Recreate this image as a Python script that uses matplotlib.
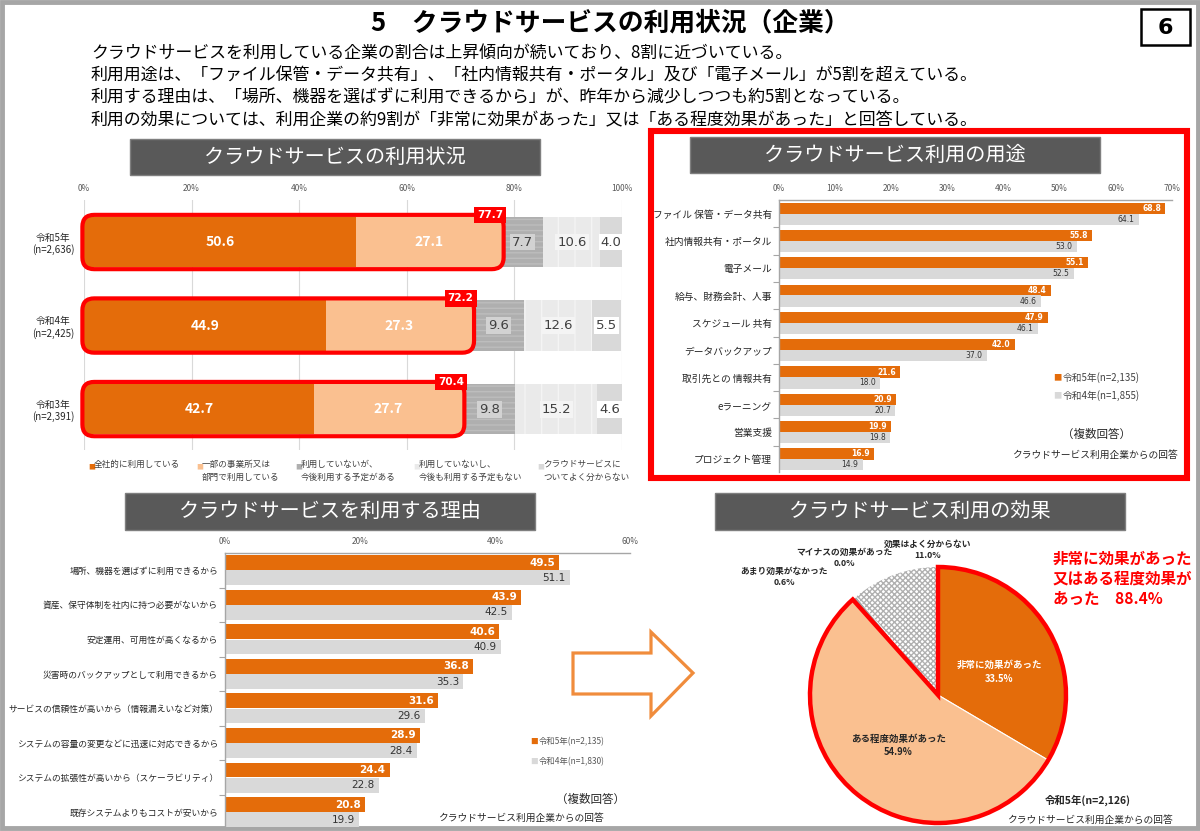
import numpy as np
import matplotlib
matplotlib.use('Agg')
import matplotlib.pyplot as plt
from matplotlib.patches import FancyBboxPatch, Rectangle, Wedge, Polygon

plt.rcParams['font.family'] = ['Noto Sans CJK JP', 'DejaVu Sans']
plt.rcParams['hatch.linewidth'] = 1.0

W, H = 1200, 831
ORANGE = '#E46C0A'
LIGHT_ORANGE = '#FAC090'
GRAY = '#D9D9D9'
DARK = '#262626'

# 利用状況
years = ['令和5年\n(n=2,636)', '令和4年\n(n=2,425)', '令和3年\n(n=2,391)']
use_all = [50.6, 44.9, 42.7]
use_part = [27.1, 27.3, 27.7]
plan = [7.7, 9.6, 9.8]
no_plan = [10.6, 12.6, 15.2]
unknown = [4.0, 5.5, 4.6]
status_legend = ['全社的に利用している', '一部の事業所又は\n部門で利用している',
                 '利用していないが、\n今後利用する予定がある',
                 '利用していないし、\n今後も利用する予定もない',
                 'クラウドサービスに\nついてよく分からない']

# 用途
purpose_labels = ['ファイル 保管・データ共有', '社内情報共有・ポータル', '電子メール',
                  '給与、財務会計、人事', 'スケジュール 共有', 'データバックアップ',
                  '取引先との 情報共有', 'eラーニング', '営業支援', 'プロジェクト管理']
purpose_r5 = [68.8, 55.8, 55.1, 48.4, 47.9, 42.0, 21.6, 20.9, 19.9, 16.9]
purpose_r4 = [64.1, 53.0, 52.5, 46.6, 46.1, 37.0, 18.0, 20.7, 19.8, 14.9]
purpose_legend = ['令和5年(n=2,135)', '令和4年(n=1,855)']

# 理由
reason_labels = ['場所、機器を選ばずに利用できるから', '資産、保守体制を社内に持つ必要がないから',
                 '安定運用、可用性が高くなるから', '災害時のバックアップとして利用できるから',
                 'サービスの信頼性が高いから（情報漏えいなど対策）',
                 'システムの容量の変更などに迅速に対応できるから',
                 'システムの拡張性が高いから（スケーラビリティ）', '既存システムよりもコストが安いから']
reason_r5 = [49.5, 43.9, 40.6, 36.8, 31.6, 28.9, 24.4, 20.8]
reason_r4 = [51.1, 42.5, 40.9, 35.3, 29.6, 28.4, 22.8, 19.9]
reason_legend = ['令和5年(n=2,135)', '令和4年(n=1,830)']

# 効果
effect_labels = ['非常に効果があった', 'ある程度効果があった', 'あまり効果がなかった',
                 'マイナスの効果があった', '効果はよく分からない']
effect_values = [33.5, 54.9, 0.6, 0.0, 11.0]

fig = plt.figure(figsize=(12, 8.31), dpi=100)


def px_axes(x0, y0, x1, y1):
    ax = fig.add_axes([x0 / W, 1 - y1 / H, (x1 - x0) / W, (y1 - y0) / H])
    ax.set_facecolor('none')
    return ax


# 背景・装飾用 (ピクセル座標)
deco = px_axes(0, 0, W, H)
deco.set_xlim(0, W)
deco.set_ylim(H, 0)
deco.axis('off')

deco.add_patch(Rectangle((2, 2), W - 4, H - 5, fill=False, ec='#A6A6A6', lw=3.5))
deco.text(610, 23, '5　クラウドサービスの利用状況（企業）', fontsize=18.5, fontweight='bold',
          ha='center', va='center', color='black')
deco.add_patch(Rectangle((1141, 9), 49, 36, fill=False, ec='black', lw=1.8))
deco.text(1165.5, 27.5, '6', fontsize=16, fontweight='bold', ha='center', va='center',
          family='DejaVu Sans')

body = ['クラウドサービスを利用している企業の割合は上昇傾向が続いており、8割に近づいている。',
        '利用用途は、「ファイル保管・データ共有」、「社内情報共有・ポータル」及び「電子メール」が5割を超えている。',
        '利用する理由は、「場所、機器を選ばずに利用できるから」が、昨年から減少しつつも約5割となっている。',
        '利用の効果については、利用企業の約9割が「非常に効果があった」又は「ある程度効果があった」と回答している。']
for k, line in enumerate(body):
    deco.text(91, 53 + 22.3 * k, line, fontsize=12.2, ha='left', va='center', color='black')


def title_box(x0, y0, x1, y1, text):
    deco.add_patch(Rectangle((x0, y0), x1 - x0, y1 - y0, fc='#595959', ec='#7F7F7F', lw=1))
    deco.text((x0 + x1) / 2, (y0 + y1) / 2, text, color='white', fontsize=14.5,
              ha='center', va='center')


title_box(130, 139, 540, 175, 'クラウドサービスの利用状況')
title_box(690, 137, 1100, 173, 'クラウドサービス利用の用途')
title_box(125, 493, 535, 530, 'クラウドサービスを利用する理由')
title_box(715, 493, 1125, 530, 'クラウドサービス利用の効果')

# 赤枠 (用途)
deco.add_patch(Rectangle((651, 131), 536, 347, fill=False, ec='#FF0000', lw=4.4))

# 矢印
deco.add_patch(Polygon([(573, 653), (651, 653), (651, 632), (693, 673), (651, 716),
                        (651, 694), (573, 694)], closed=True, fc='white', ec='#F08C3C', lw=2.3))

# ---------- 利用状況 ----------
ax1 = px_axes(84, 200, 622, 450)
yy = np.arange(len(years))
segs = [use_all, use_part, plan, no_plan, unknown]
seg_colors = [ORANGE, LIGHT_ORANGE, '#AFAFAF', '#EAEAEA', GRAY]
seg_hatch = [None, None, '---', '|', None]
seg_hcol = [ORANGE, LIGHT_ORANGE, '#BDBDBD', '#F4F4F4', GRAY]
lab_bg = [None, None, '#D2D2D2', '#F4F4F4', 'white']
left = np.zeros(len(years))
for k, vals in enumerate(segs):
    vals = np.array(vals)
    ax1.barh(yy, vals, left=left, height=0.6, color=seg_colors[k], edgecolor=seg_hcol[k],
             hatch=seg_hatch[k], linewidth=0, zorder=2)
    for i, v in enumerate(vals):
        cx = left[i] + v / 2
        if k < 2:
            ax1.text(cx, i, f'{v:.1f}', color='white', fontsize=10, fontweight='bold',
                     ha='center', va='center', zorder=5)
        else:
            ax1.text(cx, i, f'{v:.1f}', color='#404040', fontsize=9.5, ha='center', va='center',
                     zorder=5, family='DejaVu Sans',
                     bbox=dict(boxstyle='square,pad=0.15', fc=lab_bg[k], ec='none'))
    left += vals

asp = (538 / 100) / (250 / 2.993)
for i in range(len(years)):
    tot = use_all[i] + use_part[i]
    ax1.add_patch(FancyBboxPatch((-0.3, i - 0.325), tot + 0.6, 0.65,
                                 boxstyle='round,pad=0,rounding_size=2.2', mutation_aspect=asp,
                                 fill=False, ec='#FF0000', lw=3.0, zorder=4, clip_on=False))
    ax1.text(tot - 2.2, i - 0.325, f'{tot:.1f}', color='white', fontsize=7.5, fontweight='bold',
             ha='center', va='center', zorder=6, family='DejaVu Sans',
             bbox=dict(boxstyle='square,pad=0.3', fc='#FF0000', ec='none'))

ax1.set_xlim(0, 100)
ax1.set_ylim(2.49, -0.503)
ax1.xaxis.tick_top()
ax1.set_xticks(range(0, 101, 20))
ax1.set_xticklabels([f'{t}%' for t in range(0, 101, 20)])
ax1.tick_params(axis='x', length=0, labelsize=6, labelcolor='#595959', pad=5)
ax1.set_yticks(yy)
ax1.set_yticklabels(years, multialignment='center')
ax1.tick_params(axis='y', length=0, labelsize=7, labelcolor=DARK, pad=7)
ax1.grid(axis='x', color=GRAY, lw=0.8, zorder=0)
ax1.set_axisbelow(True)
for s in ax1.spines.values():
    s.set_visible(False)

legend_x = [88, 196, 295, 413, 537]
for k, lab in enumerate(status_legend):
    deco.text(legend_x[k], 467, '■', color=seg_colors[k], fontsize=5, ha='left', va='center')
    deco.text(legend_x[k] + 6, 460, lab, color='#404040', fontsize=6.2, ha='left', va='top',
              linespacing=1.5)


# ---------- 棒グラフ共通 ----------
def pair_bars(ax, labels, v5, v4, xmax, step, off, h, fs_cat, fs_val):
    y = np.arange(len(labels))
    ax.barh(y - off, v5, height=h, color=ORANGE, zorder=2)
    ax.barh(y + off, v4, height=h, color=GRAY, zorder=2)
    for yi, v in zip(y, v5):
        ax.annotate(f'{v:.1f}', (v, yi - off), xytext=(-3, 0), textcoords='offset points',
                    ha='right', va='center', color='white', fontweight='bold', fontsize=fs_val,
                    family='DejaVu Sans')
    for yi, v in zip(y, v4):
        ax.annotate(f'{v:.1f}', (v, yi + off), xytext=(-3, 0), textcoords='offset points',
                    ha='right', va='center', color='#333333', fontsize=fs_val,
                    family='DejaVu Sans')
    ax.set_xlim(0, xmax)
    ax.set_ylim(len(labels) - 0.54, -0.5)
    ax.xaxis.tick_top()
    ticks = list(range(0, xmax + 1, step))
    ax.set_xticks(ticks)
    ax.set_xticklabels([f'{t}%' for t in ticks])
    ax.tick_params(axis='x', length=0, labelsize=6, labelcolor='#595959', pad=5)
    ax.set_yticks(y)
    ax.set_yticklabels(labels)
    ax.set_yticks(y[:-1] + 0.5, minor=True)
    ax.tick_params(axis='y', which='major', length=0, labelsize=fs_cat, labelcolor=DARK, pad=5)
    ax.tick_params(axis='y', which='minor', length=4, color='#A6A6A6', width=0.8)
    ax.spines['right'].set_visible(False)
    ax.spines['bottom'].set_visible(False)
    for s in ['left', 'top']:
        ax.spines[s].set_color('#A6A6A6')
        ax.spines[s].set_linewidth(1.0)


# ---------- 用途 ----------
ax2 = px_axes(779, 200, 1172, 472)
pair_bars(ax2, purpose_labels, purpose_r5, purpose_r4, 70, 10, 0.2, 0.41, 7, 5.5)
for k, lab in enumerate(purpose_legend):
    deco.text(1053, 378 + 18 * k, '■', color=[ORANGE, GRAY][k], fontsize=6, ha='left', va='center')
    deco.text(1063, 378 + 18 * k, lab, color='#404040', fontsize=7, ha='left', va='center')
deco.text(1097, 434, '（複数回答）', fontsize=8.3, ha='center', va='center', color=DARK)
deco.text(1095, 455, 'クラウドサービス利用企業からの回答', fontsize=7, ha='center', va='center',
          color=DARK)

# ---------- 理由 ----------
ax3 = px_axes(225, 553, 630, 828)
pair_bars(ax3, reason_labels, reason_r5, reason_r4, 60, 20, 0.22, 0.43, 6.3, 7.5)
for k, lab in enumerate(reason_legend):
    deco.text(530, 742 + 20 * k, '■', color=[ORANGE, GRAY][k], fontsize=5.5, ha='left', va='center')
    deco.text(539, 742 + 20 * k, lab, color='#595959', fontsize=6, ha='left', va='center')
deco.text(590, 799, '（複数回答）', fontsize=8.3, ha='center', va='center', color=DARK)
deco.text(521, 818, 'クラウドサービス利用企業からの回答', fontsize=7, ha='center', va='center',
          color=DARK)

# ---------- 効果 ----------
ax4 = px_axes(810, 567, 1066, 823)
pie_colors = [ORANGE, LIGHT_ORANGE, '#A6A6A6', '#7F7F7F', 'white']
wedges, _ = ax4.pie(effect_values, startangle=90, counterclock=False, colors=pie_colors,
                    wedgeprops=dict(edgecolor='white', linewidth=0.8))
wedges[4].set_hatch('xxxxxx')
wedges[4].set_edgecolor('#B0B0B0')
wedges[4].set_linewidth(0)
ax4.set_xlim(-1, 1)
ax4.set_ylim(-1, 1)
ax4.set_aspect('equal')

total = sum(effect_values)
good = effect_values[0] + effect_values[1]
ax4.add_patch(Wedge((0, 0), 1, 90 - 360 * good / total, 90, fill=False, ec='#FF0000', lw=3.2,
                    zorder=5, clip_on=False, joinstyle='miter'))

label_pos = {0: (0.48, 0.18, 'white'), 1: (-0.31, -0.39, DARK),
             2: (-1.2, 0.92, DARK), 3: (-0.73, 1.07, DARK), 4: (-0.08, 1.13, DARK)}
for k, (px, py, col) in label_pos.items():
    ax4.text(px, py, f'{effect_labels[k]}\n{effect_values[k]:.1f}%', color=col,
             fontsize=6.8 if k < 2 else 6.3, fontweight='bold', ha='center', va='center',
             linespacing=1.4 if k < 2 else 1.3)

deco.text(1053, 579, f'非常に効果があった\n又はある程度効果が\nあった　{good:.1f}%', color='#FF0000',
          fontsize=11.2, fontweight='bold', ha='left', va='center', linespacing=1.3)
deco.text(1088, 800, '令和5年(n=2,126)', fontsize=7.5, fontweight='bold', ha='center', va='center',
          color=DARK)
deco.text(1090, 820, 'クラウドサービス利用企業からの回答', fontsize=7, ha='center', va='center',
          color=DARK)

fig.savefig('out.png', dpi=100)
